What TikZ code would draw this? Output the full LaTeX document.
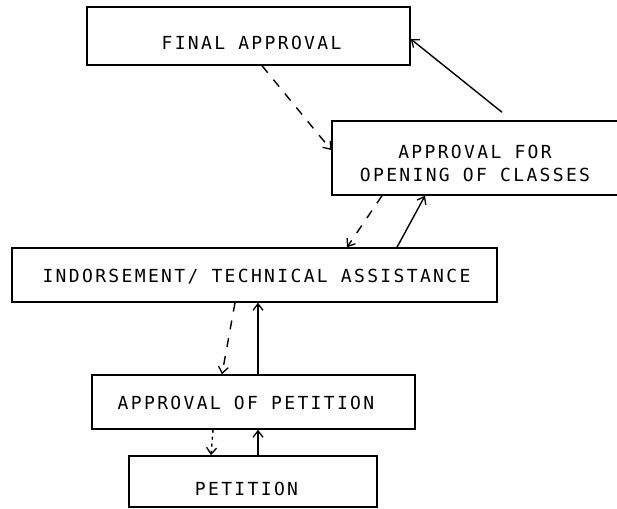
\documentclass[tikz,border=0pt]{standalone}
\usepackage{fontspec}
\newfontfamily\letterfont[LetterSpace=13]{DejaVu Sans Mono}
\usetikzlibrary{arrows.meta}
\begin{document}
\begin{tikzpicture}[x=1pt,y=-1pt,
  box/.style={draw,line width=1.5pt,inner sep=0pt,minimum width=#1},
  caption/.style={anchor=base,inner sep=0pt,font=\letterfont\fontsize{18}{21}\selectfont},
  flow/.style={line width=1.4pt,-{Straight Barb[length=6.5pt,width=10pt,line width=1.3pt]}},
  back/.style={flow,dash pattern=on 9pt off 9pt},
  backshort/.style={flow,dash pattern=on 3pt off 4pt}]
\useasboundingbox (0,0) rectangle (617,508);

% boxes
\node[box=323pt,minimum height=58pt] (final)   at (248.5,36)  {};
\node[box=290pt,minimum height=74pt] (open)    at (477,158)   {};
\node[box=485pt,minimum height=54pt] (indorse) at (254.5,275) {};
\node[box=323pt,minimum height=54pt] (apppet)  at (253.5,402) {};
\node[box=248pt,minimum height=51pt] (pet)     at (253,481.5) {};

% captions
\node[caption] (tfinal)   at (251.5,50)  {FINAL APPROVAL};
\node[caption] (topen1)   at (475,158)   {APPROVAL FOR};
\node[caption] (topen2)   at (475,181)   {OPENING OF CLASSES};
\node[caption] (tindorse) at (256.5,282) {INDORSEMENT/ TECHNICAL ASSISTANCE};
\node[caption] (tapppet)  at (246,409)   {APPROVAL OF PETITION};
\node[caption] (tpet)     at (246.5,495) {PETITION};

% upward flow (solid)
\coordinate (openup) at ([shift={(25pt,8pt)}]open.north);
\draw[flow] (openup) -- ([yshift=-3pt]final.east);
\draw[flow] ([xshift=142.5pt]indorse.north) -- ([xshift=-52pt]open.south);
\draw[flow] ([xshift=4.5pt]apppet.north) -- ([xshift=3.5pt]indorse.south);
\draw[flow] ([xshift=5pt]pet.north) -- ([xshift=4.5pt]apppet.south);

% downward flow (dashed)
\draw[back] ([xshift=13.5pt]final.south) -- ([yshift=8pt]open.west);
\draw[back] ([xshift=-95pt]open.south) -- ([xshift=92.5pt]indorse.north);
\draw[back] ([xshift=-19.5pt]indorse.south) -- ([xshift=-31.5pt]apppet.north);
\draw[backshort] ([xshift=-40.5pt]apppet.south) -- ([xshift=-42pt]pet.north);
\end{tikzpicture}
\end{document}
